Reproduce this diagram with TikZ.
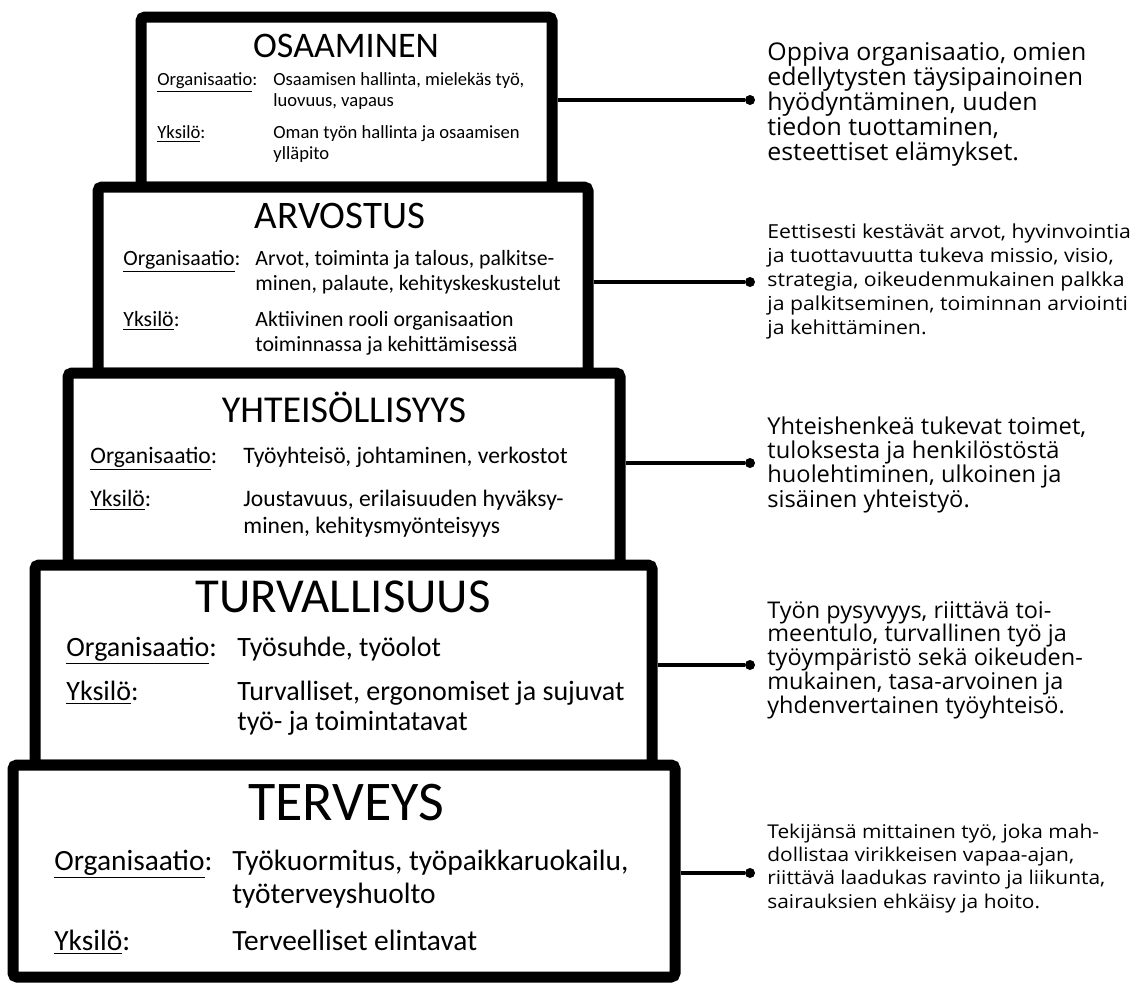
\documentclass[tikz,border=0pt]{standalone}
\usepackage{fontspec}
\setmainfont{Carlito}
\newfontfamily\notefont{Open Sans}[FakeStretch=1.02]
\newfontfamily\widenote{Open Sans}[FakeStretch=1.1]
\usetikzlibrary{fit}
\tikzset{tier/.style={draw=black,line width=5.5pt,fill=white,rounded corners=2pt,inner sep=0pt},
  tiertitle/.style={anchor=base,inner sep=0pt},
  field/.style={anchor=base west,align=left,inner sep=0pt},
  note/.style={anchor=base west,align=left,inner sep=0pt},
  link/.style={line width=2pt},
  dot/.style={circle,fill=black,inner sep=0pt,minimum size=5pt}}
\newcommand{\fs}[2]{\fontsize{#1}{#2}\selectfont}

\begin{document}
\begin{tikzpicture}[x=0.5pt,y=-0.5pt]
\useasboundingbox (0,0) rectangle (1132,985);
% tiers, top to bottom (multi-line texts sit on their last baseline)
\node[tier,fit={(141,17) (552,187)}] (osa) {};
\node[tiertitle,font=\fs{18}{20}] (osatitle) at (346,57) {OSAAMINEN};
\node[field,font=\fs{9.3}{10.5}] (osaorg) at (157,85) {\underline{Organisaatio}:};
\node[field,font=\fs{9.3}{10.5}] (osaorgtxt) at (273,106) {Osaamisen hallinta, mielekäs työ,\\luovuus, vapaus};
\node[field,font=\fs{9.3}{10.5}] (osayks) at (157,138) {\underline{Yksilö}:};
\node[field,font=\fs{9.3}{10.5}] (osaykstxt) at (273,159) {Oman työn hallinta ja osaamisen\\ylläpito};

\node[tier,fit={(98,187) (588,373)}] (arv) {};
\node[tiertitle,font=\fs{19.5}{21}] (arvtitle) at (340,228) {ARVOSTUS};
\node[field,font=\fs{10.9}{12.5}] (arvorg) at (123,265) {\underline{Organisaatio}:};
\node[field,font=\fs{10.9}{12.5}] (arvorgtxt) at (255,290) {Arvot, toiminta ja talous, palkitse-\\minen, palaute, kehityskeskustelut};
\node[field,font=\fs{10.9}{12.5}] (arvyks) at (123,326) {\underline{Yksilö}:};
\node[field,font=\fs{10.9}{12.5}] (arvykstxt) at (255,351) {Aktiivinen rooli organisaation\\toiminnassa ja kehittämisessä};

\node[tier,fit={(68,373) (620,565)}] (yht) {};
\node[tiertitle,font=\fs{19}{21}] (yhttitle) at (344,422) {YHTEISÖLLISYYS};
\node[field,font=\fs{11.8}{13.5}] (yhtorg) at (90,463) {\underline{Organisaatio}:};
\node[field,font=\fs{11.8}{13.5}] (yhtorgtxt) at (243,463) {Työyhteisö, johtaminen, verkostot};
\node[field,font=\fs{11.8}{13.5}] (yhtyks) at (90,506) {\underline{Yksilö}:};
\node[field,font=\fs{11.8}{13.5}] (yhtykstxt) at (243,533) {Joustavuus, erilaisuuden hyväksy-\\minen, kehitysmyönteisyys};

\node[tier,fit={(35,565) (652,765)}] (tur) {};
\node[tiertitle,font=\fs{24.4}{26}] (turtitle) at (343,612) {TURVALLISUUS};
\node[field,font=\fs{14}{15}] (turorg) at (66,656) {\underline{Organisaatio}:};
\node[field,font=\fs{14}{15}] (turorgtxt) at (237,656) {Työsuhde, työolot};
\node[field,font=\fs{14}{15}] (turyks) at (66,700) {\underline{Yksilö}:};
\node[field,font=\fs{14}{15}] (turykstxt) at (237,730) {Turvalliset, ergonomiset ja sujuvat\\työ- ja toimintatavat};

\node[tier,fit={(13,765) (675,977)}] (ter) {};
\node[tiertitle,font=\fs{28}{30}] (tertitle) at (346,820) {TERVEYS};
\node[field,font=\fs{14.7}{16.5}] (terorg) at (54,870) {\underline{Organisaatio}:};
\node[field,font=\fs{14.7}{16.5}] (terorgtxt) at (232,903) {Työkuormitus, työpaikkaruokailu,\\työterveyshuolto};
\node[field,font=\fs{14.7}{16.5}] (teryks) at (54,950) {\underline{Yksilö}:};
\node[field,font=\fs{14.7}{16.5}] (terykstxt) at (232,950) {Terveelliset elintavat};

% connectors to the notes
\foreach \tier/\y in {osa/100,arv/282,yht/463,tur/665,ter/873}{
  \node[dot] (d\tier) at (750,\y) {};
  \draw[link] (\tier.east |- d\tier) -- (d\tier);
}

\node[note,font=\notefont\fs{12.2}{12.5}] (osanote) at (767,160) {Oppiva organisaatio, omien\\edellytysten täysipainoinen\\hyödyntäminen, uuden\\tiedon tuottaminen,\\esteettiset elämykset.};
\node[note,font=\widenote\fs{9.65}{12}] (arvnote) at (767,334) {Eettisesti kestävät arvot, hyvinvointia\\ja tuottavuutta tukeva missio, visio,\\strategia, oikeudenmukainen palkka\\ja palkitseminen, toiminnan arviointi\\ja kehittäminen.};
\node[note,font=\notefont\fs{11.6}{12.05}] (yhtnote) at (767,507) {Yhteishenkeä tukevat toimet,\\tuloksesta ja henkilöstöstä\\huolehtiminen, ulkoinen ja\\sisäinen yhteistyö.};
\node[note,font=\notefont\fs{11.5}{11.85}] (turnote) at (767,713) {Työn pysyvyys, riittävä toi-\\meentulo, turvallinen työ ja\\työympäristö sekä oikeuden-\\mukainen, tasa-arvoinen ja\\yhdenvertainen työyhteisö.};
\node[note,font=\widenote\fs{9.5}{11.65}] (ternote) at (767,908) {Tekijänsä mittainen työ, joka mah-\\dollistaa virikkeisen vapaa-ajan,\\riittävä laadukas ravinto ja liikunta,\\sairauksien ehkäisy ja hoito.};
\end{tikzpicture}
\end{document}
